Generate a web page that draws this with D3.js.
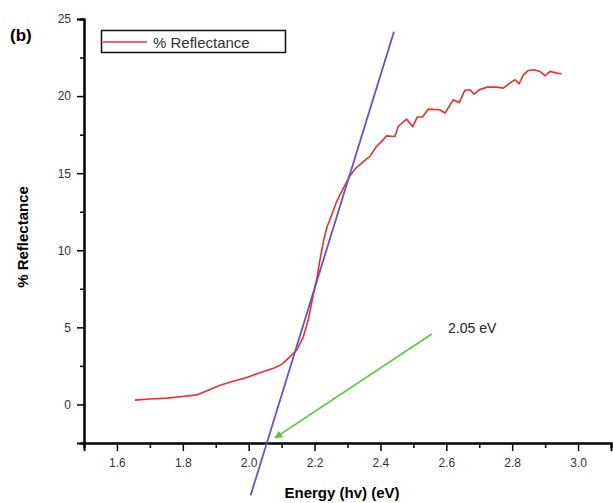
<!DOCTYPE html>
<html>
<head>
<meta charset="utf-8">
<script src="https://cdn.jsdelivr.net/npm/d3@7"></script>
<style>
  body { margin: 0; background: #fff; }
  svg { font-family: "Liberation Sans", Arial, sans-serif; }
</style>
</head>
<body>
<svg id="chart" width="613" height="503"></svg>
<script>
// reflectance curve
var energy = [1.655, 1.70, 1.752, 1.791, 1.842, 1.872, 1.913, 1.953, 1.994, 2.034, 2.075, 2.10, 2.125, 2.146, 2.166,
  2.181, 2.196, 2.206, 2.218, 2.228, 2.238, 2.252, 2.265, 2.277, 2.29, 2.307, 2.325, 2.343, 2.356, 2.368, 2.388,
  2.403, 2.419, 2.444, 2.454, 2.479, 2.498, 2.512, 2.528, 2.545, 2.58, 2.596, 2.621, 2.639, 2.656, 2.672, 2.684,
  2.70, 2.724, 2.753, 2.773, 2.793, 2.808, 2.821, 2.834, 2.849, 2.866, 2.884, 2.90, 2.915, 2.935, 2.95];
var reflectance = [0.28, 0.35, 0.41, 0.5, 0.62, 0.88, 1.25, 1.51, 1.75, 2.05, 2.34, 2.6, 3.09, 3.53, 4.39,
  5.5, 7.1, 8.07, 9.58, 10.67, 11.53, 12.29, 13.05, 13.59, 14.13, 14.82, 15.32, 15.65, 15.9, 16.08, 16.73,
  17.05, 17.42, 17.38, 18.03, 18.5, 18.03, 18.64, 18.64, 19.15, 19.11, 18.9, 19.76, 19.58, 20.36, 20.41, 20.13,
  20.41, 20.58, 20.58, 20.52, 20.84, 21.06, 20.8, 21.38, 21.66, 21.71, 21.6, 21.32, 21.6, 21.49, 21.45];

// tangent line endpoints
var fitX = [2.006, 2.441];
var fitY = [-5.89, 24.18];

// arrow from label to the intercept
var arrowX = [2.556, 2.08];
var arrowY = [4.57, -2.17];

var xTicks = [1.6, 1.8, 2.0, 2.2, 2.4, 2.6, 2.8, 3.0];
var xMinor = [1.5, 1.7, 1.9, 2.1, 2.3, 2.5, 2.7, 2.9, 3.1];
var yTicks = [0, 5, 10, 15, 20, 25];
var yMinor = [-2.5, 2.5, 7.5, 12.5, 17.5, 22.5];

var svg = d3.select("#chart");

var x = d3.scaleLinear().domain([1.5, 3.1]).range([84, 611]);
var y = d3.scaleLinear().domain([-2.5, 25]).range([443, 19]);

// axes
var xAxis = svg.append("g").attr("transform", "translate(0,443)")
  .call(d3.axisBottom(x).tickValues(xTicks).tickSize(8).tickPadding(7).tickFormat(d3.format(".1f")));
var xAxisMinor = svg.append("g").attr("transform", "translate(0,443)")
  .call(d3.axisBottom(x).tickValues(xMinor).tickSize(5).tickFormat(""));
var yAxis = svg.append("g").attr("transform", "translate(84,0)")
  .call(d3.axisLeft(y).tickValues(yTicks).tickSize(7).tickPadding(6));
var yAxisMinor = svg.append("g").attr("transform", "translate(84,0)")
  .call(d3.axisLeft(y).tickValues(yMinor).tickSize(4).tickFormat(""));

[xAxis, xAxisMinor, yAxis, yAxisMinor].forEach(function(g) {
  g.select(".domain").attr("stroke", "#000").attr("stroke-width", 2);
  g.selectAll(".tick line").attr("stroke", "#000").attr("stroke-width", 1.5);
  g.selectAll(".tick text").attr("font-size", 12).attr("fill", "#333")
    .attr("font-family", "'Liberation Sans', Arial, sans-serif");
});

// red curve
var pts = energy.map(function(d, i) { return [d, reflectance[i]]; });
var line = d3.line().x(function(d) { return x(d[0]); }).y(function(d) { return y(d[1]); });

svg.append("path").datum(pts)
  .attr("d", line)
  .attr("fill", "none")
  .attr("stroke", "#f52b2b")
  .attr("stroke-width", 1.6);

// fit line
svg.append("path").datum([[fitX[0], fitY[0]], [fitX[1], fitY[1]]])
  .attr("d", line)
  .attr("fill", "none")
  .attr("stroke", "#6b50c0")
  .attr("stroke-width", 1.8);

// green arrow
svg.append("defs").append("marker")
  .attr("id", "head")
  .attr("viewBox", "0 0 10 10")
  .attr("refX", 9).attr("refY", 5)
  .attr("markerWidth", 5).attr("markerHeight", 5)
  .attr("orient", "auto")
  .append("path").attr("d", "M0,0L10,5L0,10z").attr("fill", "#5cc83a");

svg.append("line")
  .attr("x1", x(arrowX[0])).attr("y1", y(arrowY[0]))
  .attr("x2", x(arrowX[1])).attr("y2", y(arrowY[1]))
  .attr("stroke", "#5cc83a")
  .attr("stroke-width", 1.6)
  .attr("marker-end", "url(#head)");

svg.append("text")
  .attr("x", 448).attr("y", 333)
  .attr("font-size", 14).attr("fill", "#222")
  .text("2.05 eV");

// legend
svg.append("rect")
  .attr("x", 101.5).attr("y", 30.5).attr("width", 184).attr("height", 22)
  .attr("fill", "#fff").attr("stroke", "#111").attr("stroke-width", 1.5);
svg.append("line")
  .attr("x1", 103).attr("x2", 147).attr("y1", 42).attr("y2", 42)
  .attr("stroke", "#f52b2b").attr("stroke-width", 1.6);
svg.append("text")
  .attr("x", 153).attr("y", 48)
  .attr("font-size", 15).attr("fill", "#333")
  .text("% Reflectance");

// titles
svg.append("text")
  .attr("x", 10).attr("y", 41)
  .attr("font-size", 17).attr("font-weight", "bold")
  .text("(b)");

svg.append("text")
  .attr("x", 342).attr("y", 498)
  .attr("text-anchor", "middle")
  .attr("font-size", 15).attr("font-weight", "bold")
  .text("Energy (hv) (eV)");

svg.append("text")
  .attr("transform", "translate(28,237) rotate(-90)")
  .attr("text-anchor", "middle")
  .attr("font-size", 15).attr("font-weight", "bold")
  .text("% Reflectance");
</script>
</body>
</html>
